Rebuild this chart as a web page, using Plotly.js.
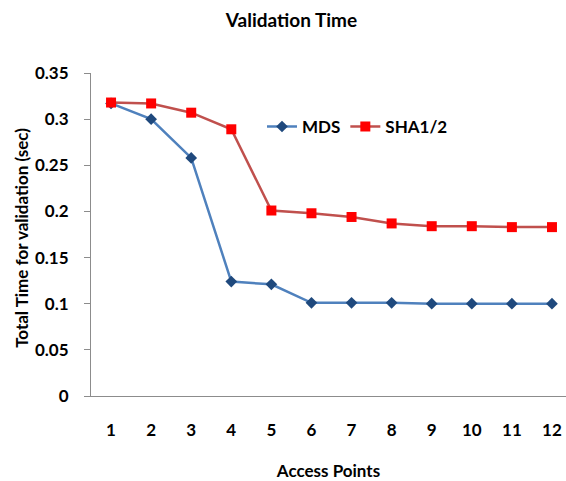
<!DOCTYPE html>
<html>
<head>
<meta charset="utf-8">
<script src="https://cdn.plot.ly/plotly-3.0.1.min.js"></script>
<style>html,body{margin:0;padding:0;background:#fff;}#chart{width:566px;height:481px;}</style>
</head>
<body>
<div id="chart"></div>
<script>
const accessPoints = [1, 2, 3, 4, 5, 6, 7, 8, 9, 10, 11, 12];
const mdsValues = [0.317, 0.300, 0.258, 0.124, 0.121, 0.101, 0.101, 0.101, 0.100, 0.100, 0.100, 0.100];
const shaValues = [0.318, 0.317, 0.307, 0.289, 0.201, 0.198, 0.194, 0.187, 0.184, 0.184, 0.183, 0.183];
const yTicks = [0, 0.05, 0.1, 0.15, 0.2, 0.25, 0.3, 0.35];
const yTickLabels = ['0', '0.05', '0.1', '0.15', '0.2', '0.25', '0.3', '0.35'];
const seriesNames = ['MDS', 'SHA1/2'];

const fontFam = 'Lato, "Open Sans", sans-serif';

const traces = [
  {
    x: accessPoints, y: mdsValues, name: '<b>' + seriesNames[0] + '</b>', type: 'scatter', mode: 'lines+markers',
    line: {color: '#4F81BD', width: 2.5},
    marker: {symbol: 'diamond', size: 9, color: '#1F497D', line: {width: 0}}
  },
  {
    x: accessPoints, y: shaValues, name: '<b>' + seriesNames[1] + '</b>', type: 'scatter', mode: 'lines+markers',
    line: {color: '#C0504D', width: 2.5},
    marker: {symbol: 'square', size: 10, color: '#FF0000', line: {width: 0}}
  }
];

const layout = {
  width: 566, height: 481,
  margin: {l: 91, r: 0, t: 73, b: 85},
  paper_bgcolor: '#fff', plot_bgcolor: '#fff',
  title: {text: '<b>Validation Time</b>', x: 0.515, xanchor: 'center', y: 0.957, yanchor: 'middle',
          font: {family: fontFam, size: 19, color: '#000'}},
  showlegend: true,
  legend: {orientation: 'h', x: 0.36, y: 0.833, xanchor: 'left', yanchor: 'middle',
           font: {family: fontFam, size: 17, color: '#000'}, bgcolor: 'rgba(0,0,0,0)',
           itemwidth: 30, tracegroupgap: 0},
  xaxis: {
    range: [0.5, 12.35], tickvals: accessPoints, ticktext: accessPoints.map(v => '<b>' + v + '</b>'),
    showgrid: false, zeroline: false, showline: true, linecolor: '#8c8c8c', linewidth: 1,
    ticks: '', ticklabelstandoff: 19,
    tickfont: {family: fontFam, size: 17, color: '#000'},
    title: {text: '<b>Access Points</b>', standoff: 25, font: {family: fontFam, size: 17, color: '#000'}}
  },
  yaxis: {
    range: [0, 0.35], tickvals: yTicks, ticktext: yTickLabels.map(v => '<b>' + v + '</b>'),
    showgrid: false, zeroline: false, showline: true, linecolor: '#8c8c8c', linewidth: 1,
    ticks: 'outside', ticklen: 6, tickcolor: '#8c8c8c', ticklabelstandoff: 12,
    tickfont: {family: fontFam, size: 17, color: '#000'}
  },
  annotations: [{
    text: '<b>Total Time for validation (sec)</b>', textangle: -90, showarrow: false,
    xref: 'paper', yref: 'paper', x: -0.145, y: 0.49, xanchor: 'center', yanchor: 'middle',
    font: {family: fontFam, size: 17, color: '#000'}
  }]
};

Plotly.newPlot('chart', traces, layout, {displayModeBar: false, staticPlot: true});
</script>
</body>
</html>
